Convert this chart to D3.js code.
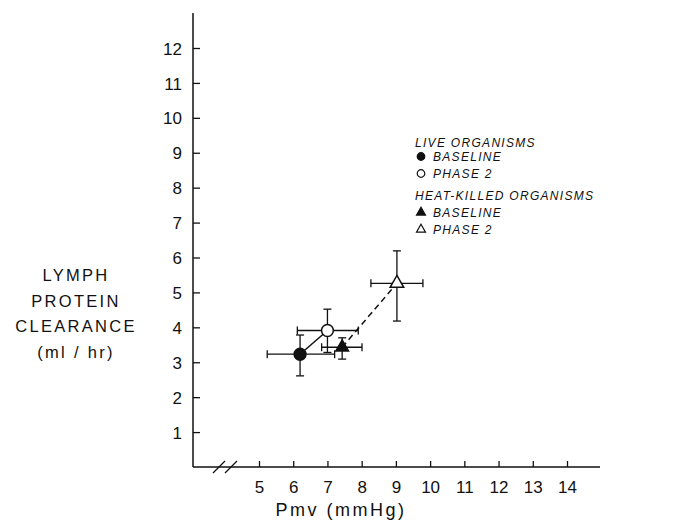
<!DOCTYPE html>
<html>
<head>
<meta charset="utf-8">
<title>Lymph protein clearance vs Pmv</title>
<script src="https://d3js.org/d3.v7.min.js"></script>
<style>
  body { margin: 0; background: #fff; }
  svg { display: block; font-family: "Liberation Sans", Arial, sans-serif; }
  .tick text { font-size: 17px; fill: #111; }
  .tick line { stroke: #111; stroke-width: 1.3; }
</style>
</head>
<body>
<svg width="674" height="523"></svg>
<script>
// data
const groups = ["LIVE BASELINE", "LIVE PHASE 2", "HEAT-KILLED BASELINE", "HEAT-KILLED PHASE 2"];
const pmv = [6.2, 7.0, 7.43, 9.03];
const pmvLo = [5.24, 6.12, 6.83, 8.27];
const pmvHi = [7.21, 7.9, 8.01, 9.79];
const clearance = [3.23, 3.91, 3.43, 5.26];
const clearLo = [2.61, 3.28, 3.09, 4.18];
const clearHi = [3.78, 4.52, 3.70, 6.19];
const xTicks = [5, 6, 7, 8, 9, 10, 11, 12, 13, 14];
const yTicks = [1, 2, 3, 4, 5, 6, 7, 8, 9, 10, 11, 12];
const yTitle = ["LYMPH", "PROTEIN", "CLEARANCE", "(ml / hr)"];

const svg = d3.select("svg");
const x = d3.scaleLinear().domain([5, 14]).range([259, 567]);
const y = d3.scaleLinear().domain([0, 12]).range([467, 48]);
const ink = "#111";

// axis lines
svg.append("line").attr("x1", 193).attr("x2", 193).attr("y1", 13).attr("y2", y(0))
  .attr("stroke", ink).attr("stroke-width", 1.5);
svg.append("line").attr("x1", 193).attr("x2", 600).attr("y1", y(0)).attr("y2", y(0))
  .attr("stroke", ink).attr("stroke-width", 1.5);

// axis break marks
[213, 225].forEach(bx => {
  svg.append("line").attr("x1", bx).attr("y1", 473).attr("x2", bx + 12).attr("y2", 461)
    .attr("stroke", ink).attr("stroke-width", 1.3);
});

const yAxis = svg.append("g").attr("transform", "translate(193,0)")
  .call(d3.axisLeft(y).tickValues(yTicks).tickSizeInner(-7).tickSizeOuter(0).tickPadding(11));
yAxis.select(".domain").remove();
yAxis.selectAll("text").attr("font-family", null).attr("font-size", null).attr("dy", "0.36em");

const xAxis = svg.append("g").attr("transform", `translate(0,${y(0)})`)
  .call(d3.axisBottom(x).tickValues(xTicks).tickSizeInner(-6).tickSizeOuter(0).tickPadding(14));
xAxis.select(".domain").remove();
xAxis.selectAll("text").attr("font-family", null).attr("font-size", null);

// axis titles
svg.append("text").attr("x", 341).attr("y", 516).attr("text-anchor", "middle")
  .attr("font-size", 18).attr("letter-spacing", 2.5).attr("fill", ink).text("Pmv (mmHg)");

svg.append("g").selectAll("text").data(yTitle).join("text")
  .attr("x", 76).attr("y", (d, i) => 281 + i * 25.5)
  .attr("text-anchor", "middle").attr("font-size", 16.5).attr("letter-spacing", 2.3)
  .attr("fill", ink).text(d => d);

// connecting lines
svg.append("line").attr("x1", x(pmv[0])).attr("y1", y(clearance[0]))
  .attr("x2", x(pmv[1])).attr("y2", y(clearance[1]))
  .attr("stroke", ink).attr("stroke-width", 1.5);
svg.append("line").attr("x1", x(pmv[2])).attr("y1", y(clearance[2]))
  .attr("x2", x(pmv[3])).attr("y2", y(clearance[3]))
  .attr("stroke", ink).attr("stroke-width", 1.5).attr("stroke-dasharray", "6,4");

// error bars
const cap = 4;
const eb = svg.append("g").attr("stroke", ink).attr("stroke-width", 1.3);
groups.forEach((g, i) => {
  eb.append("line").attr("x1", x(pmvLo[i])).attr("x2", x(pmvHi[i])).attr("y1", y(clearance[i])).attr("y2", y(clearance[i]));
  eb.append("line").attr("x1", x(pmvLo[i])).attr("x2", x(pmvLo[i])).attr("y1", y(clearance[i]) - cap).attr("y2", y(clearance[i]) + cap);
  eb.append("line").attr("x1", x(pmvHi[i])).attr("x2", x(pmvHi[i])).attr("y1", y(clearance[i]) - cap).attr("y2", y(clearance[i]) + cap);
  eb.append("line").attr("x1", x(pmv[i])).attr("x2", x(pmv[i])).attr("y1", y(clearLo[i])).attr("y2", y(clearHi[i]));
  eb.append("line").attr("x1", x(pmv[i]) - cap).attr("x2", x(pmv[i]) + cap).attr("y1", y(clearLo[i])).attr("y2", y(clearLo[i]));
  eb.append("line").attr("x1", x(pmv[i]) - cap).attr("x2", x(pmv[i]) + cap).attr("y1", y(clearHi[i])).attr("y2", y(clearHi[i]));
});

// markers
const markerType = [d3.symbolCircle, d3.symbolCircle, d3.symbolTriangle, d3.symbolTriangle];
const markerFill = [ink, "#fff", ink, "#fff"];
const markerSize = [110, 110, 70, 80];
svg.append("g").selectAll("path").data(groups).join("path")
  .attr("transform", (d, i) => `translate(${x(pmv[i])},${y(clearance[i])})`)
  .attr("d", (d, i) => d3.symbol(markerType[i], markerSize[i])())
  .attr("fill", (d, i) => markerFill[i])
  .attr("stroke", ink).attr("stroke-width", 1.5);

// legend
const legend = svg.append("g").attr("font-style", "italic").attr("font-size", 12)
  .attr("letter-spacing", 1.3).attr("fill", ink);
legend.append("text").attr("x", 415).attr("y", 147).text("LIVE ORGANISMS");
legend.append("text").attr("x", 415).attr("y", 200).text("HEAT-KILLED ORGANISMS");
const legendLabels = ["BASELINE", "PHASE 2", "BASELINE", "PHASE 2"];
const legendY = [161, 178, 217, 234];
legend.selectAll("text.item").data(legendLabels).join("text").attr("class", "item")
  .attr("x", 433).attr("y", (d, i) => legendY[i]).text(d => d);
svg.append("g").selectAll("path").data(groups).join("path")
  .attr("transform", (d, i) => `translate(421,${legendY[i] - 4.5})`)
  .attr("d", (d, i) => d3.symbol(markerType[i], i < 2 ? 45 : 35)())
  .attr("fill", (d, i) => markerFill[i])
  .attr("stroke", ink).attr("stroke-width", 1.2);
</script>
</body>
</html>
